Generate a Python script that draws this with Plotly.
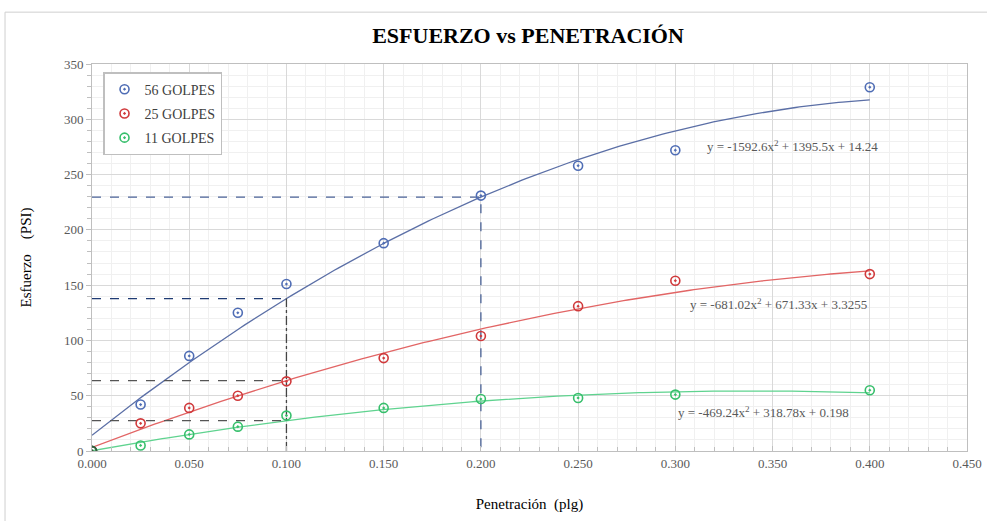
import numpy as np
import plotly.graph_objects as go

# Datos de ensayo CBR
penetracion = [0.000, 0.025, 0.050, 0.075, 0.100, 0.150, 0.200, 0.250, 0.300, 0.400]
golpes_56 = [0, 42, 86, 125, 151, 188, 231, 258, 272, 329]
golpes_25 = [0, 25, 39, 50, 63, 84, 104, 131, 154, 160]
golpes_11 = [0, 5, 15, 22, 32, 39, 47, 48, 51, 55]

series_names = ["56 GOLPES", "25 GOLPES", "11 GOLPES"]
# coeficientes de las líneas de tendencia (a, b, c) mostrados en el gráfico
coef_56 = [-1592.6, 1395.5, 14.24]
coef_25 = [-681.02, 671.33, 3.3255]
coef_11 = [-469.24, 318.78, 0.198]
eq_texts = [
    "y = -1592.6x<sup>2</sup> + 1395.5x + 14.24",
    "y = -681.02x<sup>2</sup> + 671.33x + 3.3255",
    "y = -469.24x<sup>2</sup> + 318.78x + 0.198",
]
eq_pos = [(0.3155, 276), (0.3065, 133), (0.3003, 35)]

marker_colors = ["#4f6db5", "#d0393b", "#37bf6c"]
line_colors = ["#5b6fa6", "#e26565", "#5fd38f"]

font = "Liberation Serif, Times New Roman, serif"

fig = go.Figure()

x_fit = np.linspace(0, 0.4, 200)
datos = [golpes_56, golpes_25, golpes_11]
coefs = [coef_56, coef_25, coef_11]

for i in range(3):
    fig.add_trace(go.Scatter(
        x=x_fit, y=np.polyval(coefs[i], x_fit), mode="lines",
        line=dict(color=line_colors[i], width=1.3),
        showlegend=False, hoverinfo="skip"))

# líneas de referencia a 0.1 y 0.2 plg
y01 = [float(np.polyval(c, 0.1)) for c in coefs]
y02 = float(np.polyval(coef_56, 0.2))
ref_colors = ["#1f3b73", "#555555", "#555555"]
for i in range(3):
    fig.add_trace(go.Scatter(
        x=[0, 0.1], y=[y01[i], y01[i]], mode="lines",
        line=dict(color=ref_colors[i], width=1.3, dash="dash"),
        showlegend=False, hoverinfo="skip"))
fig.add_trace(go.Scatter(
    x=[0.1, 0.1], y=[0, y01[0]], mode="lines",
    line=dict(color="#444444", width=1.3, dash="dashdot"),
    showlegend=False, hoverinfo="skip"))
fig.add_trace(go.Scatter(
    x=[0, 0.2, 0.2], y=[y02, y02, 0], mode="lines",
    line=dict(color="#4a6297", width=1.3, dash="dash"),
    showlegend=False, hoverinfo="skip"))

for i in range(3):
    fig.add_trace(go.Scatter(
        x=penetracion, y=datos[i], mode="markers", name=series_names[i],
        legendgroup=series_names[i],
        marker=dict(symbol="circle-dot", size=9, color="rgba(0,0,0,0)",
                    line=dict(color=marker_colors[i], width=1.6))))

# punto origen oscuro
fig.add_trace(go.Scatter(
    x=[0], y=[0], mode="markers", showlegend=False, hoverinfo="skip",
    marker=dict(symbol="circle-dot", size=9, color="rgba(0,0,0,0)",
                line=dict(color="#2f5f3a", width=1.8))))

for i in range(3):
    fig.add_annotation(x=eq_pos[i][0], y=eq_pos[i][1], text=eq_texts[i],
                       showarrow=False, xanchor="left", yanchor="middle",
                       font=dict(family=font, size=13, color="#595959"))

# marco exterior del gráfico
fig.add_shape(type="rect", xref="paper", yref="paper",
              x0=-0.0994, x1=1.05, y0=-0.3, y1=1.134,
              line=dict(color="#cfcfcf", width=1))

fig.update_layout(
    width=987, height=521,
    margin=dict(l=92, r=20, t=64, b=70, autoexpand=False),
    paper_bgcolor="white", plot_bgcolor="white",
    title=dict(text="<b>ESFUERZO vs PENETRACIÓN</b>", x=528 / 987,
               xanchor="center", y=1 - 35 / 521, yanchor="middle",
               font=dict(family=font, size=22, color="black")),
    font=dict(family=font, color="#595959", size=13),
    legend=dict(x=0.0126, y=0.979, xanchor="left", yanchor="top",
                bordercolor="#bfbfbf", borderwidth=1.5, bgcolor="white",
                traceorder="grouped", tracegroupgap=3,
                font=dict(family=font, size=14, color="#404040")),
    showlegend=True,
)

fig.update_xaxes(
    range=[0, 0.45], dtick=0.05, tickformat=".3f", automargin=False,
    showgrid=True, gridcolor="#d9d9d9", gridwidth=1,
    minor=dict(dtick=0.01, showgrid=True, gridcolor="#f0f0f0",
               ticks="inside", ticklen=4, tickcolor="#bfbfbf"),
    ticks="inside", ticklen=5, tickcolor="#bfbfbf",
    showline=True, linecolor="#bfbfbf", linewidth=1, mirror=True,
    zeroline=False,
    tickfont=dict(family=font, size=13, color="#595959"),
    title=dict(text="Penetración\u00a0\u00a0(plg)", standoff=28,
               font=dict(family=font, size=15, color="black")),
)
fig.update_yaxes(
    range=[0, 350], dtick=50, automargin=False,
    showgrid=True, gridcolor="#d9d9d9", gridwidth=1,
    minor=dict(dtick=10, showgrid=True, gridcolor="#f0f0f0",
               ticks="outside", ticklen=4, tickcolor="#bfbfbf"),
    ticks="outside", ticklen=5, tickcolor="#bfbfbf",
    showline=True, linecolor="#bfbfbf", linewidth=1, mirror=True,
    zeroline=False,
    tickfont=dict(family=font, size=13, color="#595959"),
    title=dict(text="Esfuerzo\u00a0\u00a0\u00a0\u00a0(PSI)", standoff=28,
               font=dict(family=font, size=15, color="black")),
)

# quitar el margen por defecto del body
fig.write_html("out.html", config={"displayModeBar": False},
               post_script="document.body.style.margin='0';")
